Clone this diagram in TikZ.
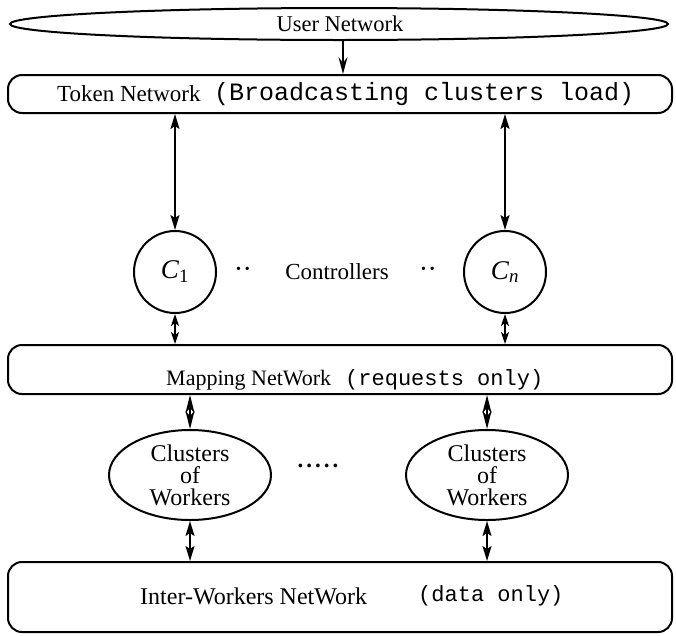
\documentclass[tikz,border=0pt]{standalone}
\usepackage{fontspec}
\setmainfont{Liberation Serif}
\setmonofont{Liberation Mono}
\usetikzlibrary{arrows.meta,shapes.geometric}
\begin{document}
\begin{tikzpicture}[x=1pt,y=-1pt,
  every node/.style={font=\fontsize{23}{23}\selectfont, inner sep=0pt},
  net/.style={draw, line width=2pt, rounded corners=14pt, minimum width=664pt},
  ctrl/.style={draw, circle, line width=2pt, minimum size=82pt, font=\fontsize{27}{27}\selectfont},
  clus/.style={draw, ellipse, line width=2pt, minimum width=162pt, minimum height=90pt,
               align=center, font=\fontsize{24}{22}\selectfont},
  link/.style={line width=1.6pt},
  one/.style={link, -{Stealth[length=17pt,width=9pt,inset=6pt]}},
  both/.style={link, {Stealth[length=15pt,width=9pt,inset=3pt]}-{Stealth[length=15pt,width=9pt,inset=3pt]}},
  shortboth/.style={link, {Stealth[length=12pt,width=8pt,inset=3pt]}-{Stealth[length=12pt,width=8pt,inset=3pt]}},
  diam/.style={link, {Stealth[length=18pt,width=9pt,inset=5pt]}-{Stealth[length=18pt,width=9pt,inset=5pt]}},
  mono/.style={font=\fontsize{22}{22}\selectfont\ttfamily},
  dotpair/.style={font=\fontsize{14}{14}\selectfont}
]
\useasboundingbox (0,0) rectangle (676,635);

% user network
\node[draw, ellipse, line width=2pt, minimum width=658pt, minimum height=32pt] (user) at (339,24) {};
\node[font=\fontsize{22.5}{22}\selectfont] (usertxt) at (340,24) {User Network};

% token network
\node[net, minimum height=38pt] (token) at (340,94) {};
\node[anchor=west] (tokentxt) at (57,94) {Token Network};
\node[anchor=west, font=\fontsize{25}{25}\selectfont\ttfamily] (tokenmono) at (214,94) {(Broadcasting clusters load)};

% controllers
\node[ctrl] (c1) at (175,272) {\textit{C}\textsubscript{1}};
\node[ctrl] (cn) at (505,272) {\textit{C}\textsubscript{\textit{n}}};
\node (ctrltxt) at (337,272) {Controllers};
\node[dotpair] (dotsl) at (243,270) {\textbullet\hspace{4pt}\textbullet};
\node[dotpair] (dotsr) at (428,270) {\textbullet\hspace{4pt}\textbullet};

% mapping network
\node[net, minimum height=49pt] (map) at (340,369.5) {};
\node[anchor=west, font=\fontsize{22}{22}\selectfont] (maptxt) at (166,380) {Mapping NetWork};
\node[anchor=west, mono] (mapmono) at (345,380) {(requests only)};

% clusters of workers
\node[clus] (w1) at (190,475) {Clusters\\of\\Workers};
\node[clus] (wn) at (487,475) {Clusters\\of\\Workers};
\node[font=\fontsize{23}{23}\selectfont\bfseries] (wdots) at (318,466) {.\hspace{3pt}.\hspace{3pt}.\hspace{3pt}.\hspace{3pt}.};

% inter-workers network
\node[net, minimum height=70pt] (inter) at (340,597) {};
\node[anchor=west, font=\fontsize{24}{24}\selectfont] (intertxt) at (140,596) {Inter-Workers NetWork};
\node[anchor=west, mono] (intermono) at (418,596) {(data only)};

% connectors
\draw[one] (user.south -| token.north) ++(3,0) coordinate (ufoot) -- (ufoot |- token.north);
\draw[both] (c1 |- token.south) -- (c1.north);
\draw[both] (cn |- token.south) -- (cn.north);
\draw[shortboth] (c1.south) -- (c1 |- map.north);
\draw[shortboth] (cn.south) -- (cn |- map.north);
\draw[diam] (w1 |- map.south) -- (w1.north);
\draw[diam] (wn |- map.south) -- (wn.north);
\draw[both] (w1.south) -- (w1 |- inter.north);
\draw[both] (wn.south) -- (wn |- inter.north);
\end{tikzpicture}
\end{document}
